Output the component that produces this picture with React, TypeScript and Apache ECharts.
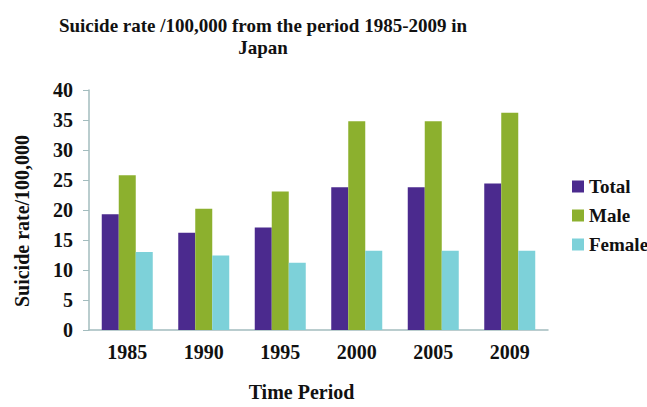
import React, { useEffect, useRef } from "react";
import * as echarts from "echarts";

const categories = ["1985", "1990", "1995", "2000", "2005", "2009"];
const totalValues = [19.3, 16.2, 17.1, 23.8, 23.8, 24.4];
const maleValues = [25.8, 20.2, 23.1, 34.8, 34.8, 36.2];
const femaleValues = [13.0, 12.4, 11.2, 13.2, 13.2, 13.2];
const seriesNames = ["Total", "Male", "Female"];
const colors = ["#4B2A8E", "#8CB02E", "#7DD1D9"];

const FONT = "Liberation Serif";

export default function App() {
  const ref = useRef<HTMLDivElement>(null);
  useEffect(() => {
    if (!ref.current) return;
    const chart = echarts.init(ref.current, undefined, { renderer: "svg" });
    const values = [totalValues, maleValues, femaleValues];
    chart.setOption({
      animation: false,
      backgroundColor: "#ffffff",
      title: {
        text: "Suicide rate /100,000 from the period 1985-2009 in\nJapan",
        left: 258,
        top: 9.5,
        textAlign: "center",
        textStyle: {
          fontFamily: FONT,
          fontWeight: "bold",
          fontSize: 19,
          lineHeight: 22,
          color: "#111",
        },
      },
      legend: {
        orient: "vertical",
        left: 567,
        top: 172,
        itemWidth: 12,
        itemHeight: 12,
        itemGap: 10,
        icon: "rect",
        textStyle: {
          fontFamily: FONT,
          fontWeight: "bold",
          fontSize: 19,
          color: "#111",
        },
        data: seriesNames,
      },
      grid: { left: 89, right: 99, top: 90, bottom: 65.5, containLabel: false },
      xAxis: {
        type: "category",
        data: categories,
        name: "Time Period",
        nameLocation: "middle",
        nameGap: 52,
        nameTextStyle: {
          fontFamily: FONT,
          fontWeight: "bold",
          fontSize: 20,
          color: "#111",
          padding: [0, 34, 0, 0],
        },
        axisLine: { lineStyle: { color: "#A3BCBE", width: 1.5 } },
        axisTick: { show: false },
        axisLabel: {
          fontFamily: FONT,
          fontWeight: "bold",
          fontSize: 20,
          color: "#111",
          margin: 12,
        },
      },
      yAxis: {
        type: "value",
        min: 0,
        max: 40,
        interval: 5,
        name: "Suicide rate/100,000",
        nameLocation: "middle",
        nameGap: 57,
        nameTextStyle: {
          fontFamily: FONT,
          fontWeight: "bold",
          fontSize: 20,
          color: "#111",
          padding: [0, 22, 0, 0],
        },
        splitLine: { show: false },
        axisLine: { show: true, lineStyle: { color: "#A3BCBE", width: 1.5 } },
        axisTick: { show: true, length: 6, lineStyle: { color: "#A3BCBE" } },
        axisLabel: {
          fontFamily: FONT,
          fontWeight: "bold",
          fontSize: 20,
          color: "#111",
          margin: 16,
        },
      },
      series: seriesNames.map((name, i) => ({
        name,
        type: "bar",
        data: values[i],
        barWidth: 17,
        barGap: "0%",
        itemStyle: { color: colors[i] },
      })),
    });
    return () => chart.dispose();
  }, []);
  return (
    <div
      ref={ref}
      style={{ position: "fixed", left: 0, top: 0, width: 647, height: 407 }}
    />
  );
}
